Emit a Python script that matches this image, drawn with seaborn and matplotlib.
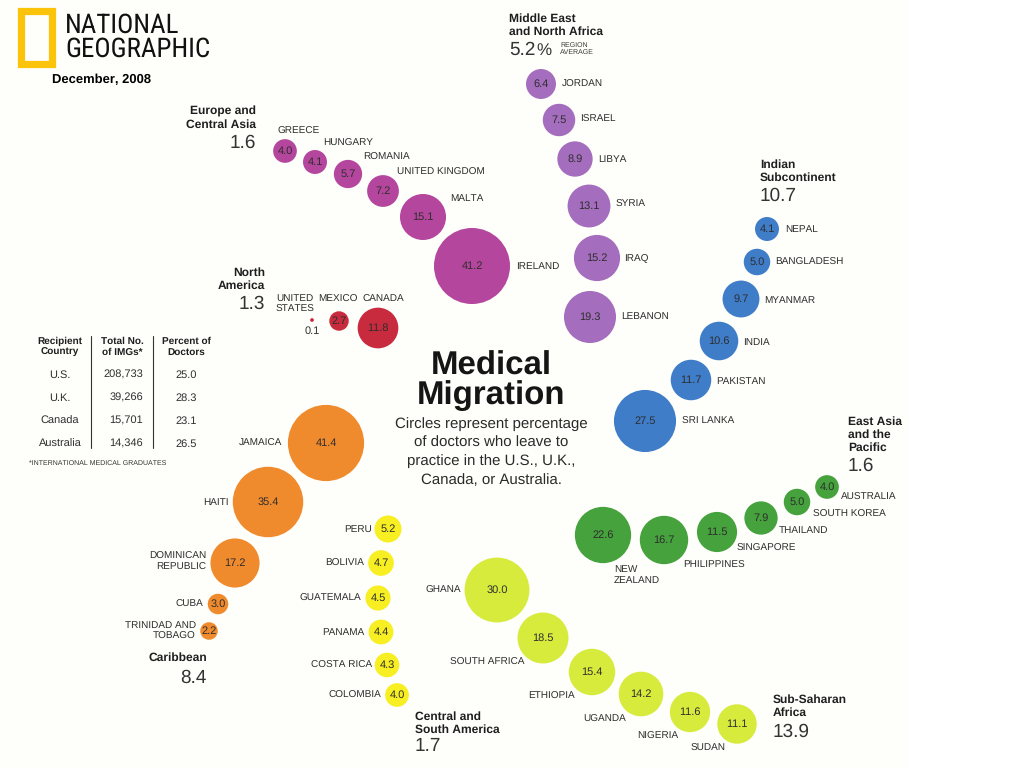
import numpy as np
import pandas as pd
import seaborn as sns
import matplotlib.pyplot as plt
from matplotlib import font_manager as fm
from matplotlib.patches import Rectangle

# ---------------- DATA ----------------
europe_countries = ["GREECE", "HUNGARY", "ROMANIA", "UNITED KINGDOM", "MALTA", "IRELAND"]
europe_values = [4.0, 4.1, 5.7, 7.2, 15.1, 41.2]

mena_countries = ["JORDAN", "ISRAEL", "LIBYA", "SYRIA", "IRAQ", "LEBANON"]
mena_values = [6.4, 7.5, 8.9, 13.1, 15.2, 19.3]

indian_countries = ["NEPAL", "BANGLADESH", "MYANMAR", "INDIA", "PAKISTAN", "SRI LANKA"]
indian_values = [4.1, 5.0, 9.7, 10.6, 11.7, 27.5]

eastasia_countries = ["NEW\nZEALAND", "PHILIPPINES", "SINGAPORE", "THAILAND", "SOUTH KOREA", "AUSTRALIA"]
eastasia_values = [22.6, 16.7, 11.5, 7.9, 5.0, 4.0]

ssa_countries = ["GHANA", "SOUTH AFRICA", "ETHIOPIA", "UGANDA", "NIGERIA", "SUDAN"]
ssa_values = [30.0, 18.5, 15.4, 14.2, 11.6, 11.1]

csa_countries = ["PERU", "BOLIVIA", "GUATEMALA", "PANAMA", "COSTA RICA", "COLOMBIA"]
csa_values = [5.2, 4.7, 4.5, 4.4, 4.3, 4.0]

carib_countries = ["JAMAICA", "HAITI", "DOMINICAN\nREPUBLIC", "CUBA", "TRINIDAD AND\nTOBAGO"]
carib_values = [41.4, 35.4, 17.2, 3.0, 2.2]

namerica_countries = ["UNITED\nSTATES", "MEXICO", "CANADA"]
namerica_values = [0.1, 2.7, 11.8]

region_names = ["Europe and\nCentral Asia", "Middle East\nand North Africa", "Indian\nSubcontinent",
                "East Asia\nand the\nPacific", "Sub-Saharan\nAfrica", "Central and\nSouth America",
                "Caribbean", "North\nAmerica"]
region_averages = ["1.6", "5.2", "10.7", "1.6", "13.9", "1.7", "8.4", "1.3"]

table_recipients = ["U.S.", "U.K.", "Canada", "Australia"]
table_imgs = ["208,733", "39,266", "15,701", "14,346"]
table_percent = ["25.0", "28.3", "23.1", "26.5"]

# ---------------- LAYOUT (pixel positions, styles) ----------------
region_colors = {
    "Europe and\nCentral Asia": "#b5469d",
    "Middle East\nand North Africa": "#a46dbd",
    "Indian\nSubcontinent": "#3f7dc9",
    "East Asia\nand the\nPacific": "#45a23d",
    "Sub-Saharan\nAfrica": "#d7eb3d",
    "Central and\nSouth America": "#f7ef22",
    "Caribbean": "#f08b2d",
    "North\nAmerica": "#c72b3d",
}

layout = {
    "Europe and\nCentral Asia": dict(
        cx=[285, 315, 348, 383, 423, 472], cy=[151, 162, 174, 191, 217, 266],
        lab=[(278, 131, "left"), (323, 143, "left"), (363, 157, "left"), (397, 172, "left"),
             (450, 198, "left"), (516, 266, "left")],
        head=(256, 118, "right"), num=(256, 143, "right")),
    "Middle East\nand North Africa": dict(
        cx=[541, 559, 575, 589, 597, 590], cy=[84, 120, 159, 206, 258, 317],
        lab=[(562, 84, "left"), (580, 119, "left"), (598, 159, "left"), (616, 204, "left"),
             (624, 259, "left"), (621, 317, "left")],
        head=(509, 25, "left"), num=(509, 50, "left")),
    "Indian\nSubcontinent": dict(
        cx=[767, 757, 741, 719, 691, 645], cy=[229, 262, 299, 341, 380, 421],
        lab=[(785, 229, "left"), (775, 262, "left"), (764, 300, "left"), (743, 342, "left"),
             (716, 382, "left"), (682, 421, "left")],
        head=(760, 171, "left"), num=(760, 196, "left")),
    "East Asia\nand the\nPacific": dict(
        cx=[603, 664, 717, 761, 797, 827], cy=[535, 540, 532, 518, 502, 487],
        lab=[(614, 575, "left"), (683, 565, "left"), (737, 548, "left"), (779, 530, "left"),
             (813, 514, "left"), (841, 497, "left")],
        head=(848, 435, "left"), num=(848, 466, "left")),
    "Sub-Saharan\nAfrica": dict(
        cx=[497, 543, 592, 641, 690, 737], cy=[590, 638, 672, 694, 712, 724],
        lab=[(461, 590, "right"), (524, 662, "right"), (575, 696, "right"), (583, 719, "left"),
             (637, 736, "left"), (691, 748, "left")],
        head=(773, 706, "left"), num=(773, 732, "left")),
    "Central and\nSouth America": dict(
        cx=[388, 381, 378, 381, 387, 397], cy=[529, 563, 598, 632, 665, 695],
        lab=[(372, 529, "right"), (364, 563, "right"), (361, 598, "right"), (364, 632, "right"),
             (372, 665, "right"), (381, 695, "right")],
        head=(415, 723, "left"), num=(415, 746, "left")),
    "Caribbean": dict(
        cx=[326, 268, 235, 218, 209], cy=[443, 502, 563, 604, 631],
        lab=[(282, 443, "right"), (229, 502, "right"), (206, 562, "right"), (203, 604, "right"),
             (196, 631, "right")],
        head=(207, 658, "right"), num=(207, 678, "right")),
    "North\nAmerica": dict(
        cx=[312, 339, 378], cy=[320, 321, 328],
        lab=[(276, 304, "left"), (318, 299, "left"), (362, 299, "left")],
        head=(265, 279, "right"), num=(265, 304, "right")),
}

region_data = {
    "Europe and\nCentral Asia": (europe_countries, europe_values),
    "Middle East\nand North Africa": (mena_countries, mena_values),
    "Indian\nSubcontinent": (indian_countries, indian_values),
    "East Asia\nand the\nPacific": (eastasia_countries, eastasia_values),
    "Sub-Saharan\nAfrica": (ssa_countries, ssa_values),
    "Central and\nSouth America": (csa_countries, csa_values),
    "Caribbean": (carib_countries, carib_values),
    "North\nAmerica": (namerica_countries, namerica_values),
}

rows = []
for reg in region_names:
    names, vals = region_data[reg]
    lay = layout[reg]
    for i, (n, v) in enumerate(zip(names, vals)):
        rows.append(dict(region=reg, country=n, value=v, x=lay["cx"][i], y=lay["cy"][i],
                         lx=lay["lab"][i][0], ly=lay["lab"][i][1], ha=lay["lab"][i][2]))
df = pd.DataFrame(rows)

# ---------------- FIGURE ----------------
sns.set_theme(style="white")
plt.rcParams["font.family"] = ["Liberation Sans", "DejaVu Sans"]
plt.rcParams["text.hinting"] = "no_hinting"
plt.rcParams["text.hinting_factor"] = 1

available = {f.name for f in fm.fontManager.ttflist}
narrow = None
for cand in ["Liberation Sans Narrow", "DejaVu Sans Condensed", "Roboto Condensed",
             "Open Sans Condensed", "Noto Sans Condensed"]:
    if cand in available:
        narrow = cand
        break

fig = plt.figure(figsize=(10.24, 7.68), dpi=100)
ax = fig.add_axes([0, 0, 1, 1])
ax.add_patch(Rectangle((0, 0), 908, 768, facecolor="#fefefb", edgecolor="none", zorder=0))

# circle area proportional to value
sns.scatterplot(data=df, x="x", y="y", hue="region", palette=region_colors,
                size="value", sizes=(0, 3635), size_norm=(0, 50),
                linewidth=0, legend=False, ax=ax, zorder=3)

ax.set_xlim(0, 1024)
ax.set_ylim(768, 0)
ax.axis("off")

TXT = "#2e2e2e"
for _, r in df.iterrows():
    ax.text(r.lx, r.ly, r.country, ha=r.ha, va="center", fontsize=7.0, color=TXT,
            linespacing=1.3, multialignment=r.ha, zorder=4)
    if r.value >= 1:
        ax.text(r.x, r.y, f"{r.value:.1f}", ha="center", va="center", fontsize=7.7,
                color=TXT, zorder=5)
    else:
        ax.text(r.x, r.y + 11, f"{r.value:.1f}", ha="center", va="center", fontsize=7.7,
                color=TXT, zorder=5)

for reg, avg in zip(region_names, region_averages):
    lay = layout[reg]
    hx, hy, ha = lay["head"]
    nx, ny, nha = lay["num"]
    ax.text(hx, hy, reg, ha=ha, va="center", fontsize=8.9, fontweight="bold",
            color="#1e1e1e", linespacing=1.22, multialignment=ha)
    ax.text(nx, ny, avg, ha=nha, va="center", fontsize=14, color="#333333")
    if reg.startswith("Middle"):
        ax.text(nx + 27, ny + 1, "%", ha="left", va="center", fontsize=12, color="#333333")
        ax.text(560, 49, "REGION\nAVERAGE", ha="left", va="center", fontsize=5.2,
                color="#3a3a3a", linespacing=1.05)

# title block
ax.text(491, 381, "Medical\nMigration", ha="center", va="center", fontsize=24,
        fontweight="bold", color="#151515", linespacing=0.95)
ax.text(491, 452, "Circles represent percentage\nof doctors who leave to\n"
        "practice in the U.S., U.K.,\nCanada, or Australia.",
        ha="center", va="center", fontsize=10.6, color="#2a2a2a", linespacing=1.45)

# table
hdr_y = 347
for cx, txt in [(60, "Recipient\nCountry"), (122, "Total No.\nof IMGs*"), (186, "Percent of\nDoctors")]:
    ax.text(cx, hdr_y, txt, ha="center", va="center", fontsize=7.2,
            fontweight="bold", color="#1e1e1e", linespacing=1.2)
row_y = [375, 398, 421, 444]
for yy, a, b, c in zip(row_y, table_recipients, table_imgs, table_percent):
    ax.text(60, yy, a, ha="center", va="center", fontsize=7.6, color=TXT)
    ax.text(143, yy, b, ha="right", va="center", fontsize=7.6, color=TXT)
    ax.text(186, yy, c, ha="center", va="center", fontsize=7.6, color=TXT)
ax.plot([91, 91], [336, 448], color="#333333", lw=0.8)
ax.plot([153, 153], [336, 448], color="#333333", lw=0.8)
ax.text(29, 463, "*INTERNATIONAL MEDICAL GRADUATES", ha="left", va="center",
        fontsize=4.7, color="#333333")

# logo
ax.add_patch(Rectangle((20.5, 10.5), 31, 53, facecolor="none", edgecolor="#fcc30b",
                       lw=5.2, zorder=6))
if narrow:
    ax.text(65, 37, "NATIONAL\nGEOGRAPHIC", ha="left", va="center", fontsize=19.5,
            family=[narrow, "DejaVu Sans"], color="#111111", linespacing=0.9)
else:
    ax.text(65, 37, "NATIONAL\nGEOGRAPHIC", ha="left", va="center", fontsize=16,
            color="#111111", linespacing=0.95)
ax.text(52, 80, "December, 2008", ha="left", va="center", fontsize=9.4,
        fontweight="bold", color="#000000")

fig.savefig("out.png", dpi=100)
